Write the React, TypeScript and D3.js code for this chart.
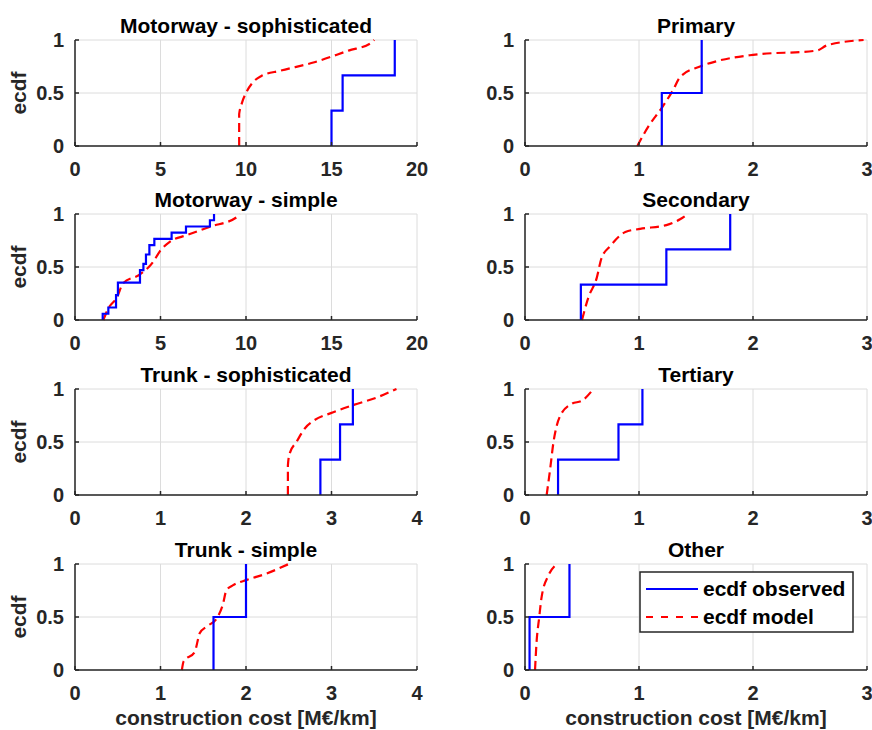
import React from 'react';
import * as d3 from 'd3';

// panel titles, in reading order (left column then right column, row by row)
const titles = [
  'Motorway - sophisticated', 'Primary',
  'Motorway - simple', 'Secondary',
  'Trunk - sophisticated', 'Tertiary',
  'Trunk - simple', 'Other',
];

// x axis upper limits and tick values per panel
const xMax = [20, 3, 20, 3, 4, 3, 4, 3];
const xTicks20 = [0, 5, 10, 15, 20];
const xTicks4 = [0, 1, 2, 3, 4];
const xTicks3 = [0, 1, 2, 3];
const yTicks = [0, 0.5, 1];
const yTickLabels = ['0', '0.5', '1'];

// observed ecdf: [cost, cumulative probability after the jump]
const obsMotorwaySoph: [number, number][] = [[15.0, 1 / 3], [15.65, 2 / 3], [18.7, 1]];
const obsPrimary: [number, number][] = [[1.2, 0.5], [1.55, 1]];
const obsMotorwaySimple: [number, number][] = [
  [1.62, 0.059], [1.95, 0.118], [2.4, 0.235], [2.51, 0.353], [3.8, 0.471],
  [4.0, 0.529], [4.15, 0.618], [4.35, 0.706], [4.64, 0.765], [5.65, 0.824],
  [6.49, 0.882], [7.89, 0.941], [8.13, 1],
];
const obsSecondary: [number, number][] = [[0.49, 1 / 3], [1.24, 2 / 3], [1.8, 1]];
const obsTrunkSoph: [number, number][] = [[2.87, 1 / 3], [3.1, 2 / 3], [3.25, 1]];
const obsTertiary: [number, number][] = [[0.29, 1 / 3], [0.82, 2 / 3], [1.03, 1]];
const obsTrunkSimple: [number, number][] = [[1.62, 0.5], [2.0, 1]];
const obsOther: [number, number][] = [[0.04, 0.5], [0.39, 1]];

// model ecdf
const modMotorwaySoph: [number, number][] = [
  [9.6, 0], [9.6, 0.3], [9.75, 0.4], [10.0, 0.5], [10.4, 0.6], [10.9, 0.66],
  [12.0, 0.71], [14.0, 0.79], [16.0, 0.9], [17.3, 0.97], [17.5, 1],
];
const modPrimary: [number, number][] = [
  [0.985, 0], [1.08, 0.18], [1.2, 0.36], [1.3, 0.53], [1.36, 0.65], [1.535, 0.75],
  [1.68, 0.8], [2.0, 0.86], [2.56, 0.9], [2.65, 0.95], [2.97, 1],
];
const modMotorwaySimple: [number, number][] = [
  [1.66, 0], [1.95, 0.11], [2.44, 0.21], [2.83, 0.35], [3.8, 0.43], [4.58, 0.55],
  [4.97, 0.65], [5.56, 0.74], [6.53, 0.8], [7.9, 0.88], [9.46, 0.97], [9.65, 1],
];
const modSecondary: [number, number][] = [
  [0.5, 0], [0.555, 0.21], [0.63, 0.4], [0.67, 0.58], [0.75, 0.7], [0.88, 0.83],
  [1.01, 0.86], [1.24, 0.895], [1.36, 0.95], [1.43, 1],
];
const modTrunkSoph: [number, number][] = [
  [2.49, 0], [2.49, 0.28], [2.51, 0.39], [2.59, 0.5], [2.69, 0.63], [2.79, 0.7],
  [3.02, 0.78], [3.26, 0.85], [3.53, 0.92], [3.76, 1],
];
const modTertiary: [number, number][] = [
  [0.19, 0], [0.22, 0.24], [0.25, 0.5], [0.28, 0.66], [0.31, 0.75], [0.41, 0.86],
  [0.5, 0.89], [0.6, 1],
];
const modTrunkSimple: [number, number][] = [
  [1.25, 0], [1.27, 0.08], [1.4, 0.17], [1.46, 0.35], [1.54, 0.41], [1.66, 0.49],
  [1.73, 0.62], [1.77, 0.75], [1.85, 0.8], [2.01, 0.85], [2.24, 0.91], [2.5, 1],
];
const modOther: [number, number][] = [
  [0.088, 0], [0.1, 0.24], [0.125, 0.5], [0.146, 0.69], [0.205, 0.89], [0.28, 1],
];

const observed = [obsMotorwaySoph, obsPrimary, obsMotorwaySimple, obsSecondary,
  obsTrunkSoph, obsTertiary, obsTrunkSimple, obsOther];
const model = [modMotorwaySoph, modPrimary, modMotorwaySimple, modSecondary,
  modTrunkSoph, modTertiary, modTrunkSimple, modOther];

const W = 872;
const H = 730;
const colLeft = [75, 525];
const plotW = 342;
const rowTop = [40, 214, 389, 564];
const plotH = 106;
const font = '"Liberation Sans", Arial, Helvetica, sans-serif';
const fs = 20;
const fsTitle = 21;
const axisColor = '#262626';
const gridColor = '#dcdcdc';

const ticksFor = (m: number) => (m === 20 ? xTicks20 : m === 4 ? xTicks4 : xTicks3);

const Panel = ({ i }: { i: number }) => {
  const col = i % 2;
  const row = Math.floor(i / 2);
  const x0 = colLeft[col];
  const y0 = rowTop[row];
  const x = d3.scaleLinear().domain([0, xMax[i]]).range([x0, x0 + plotW]);
  const y = d3.scaleLinear().domain([0, 1]).range([y0 + plotH, y0]);
  const ticks = ticksFor(xMax[i]);

  const obs = observed[i];
  const stepLine = d3.line<[number, number]>()
    .x(d => x(d[0]))
    .y(d => y(d[1]))
    .curve(d3.curveStepAfter);
  const modLine = d3.line<[number, number]>()
    .x(d => x(d[0]))
    .y(d => y(d[1]))
    .curve(d3.curveMonotoneX);

  const obsPts: [number, number][] = [[obs[0][0], 0], ...obs];

  return (
    <g>
      {/* grid */}
      {ticks.map(t => (
        <line key={'gx' + t} x1={x(t)} x2={x(t)} y1={y(0)} y2={y(1)} stroke={gridColor} strokeWidth={1} />
      ))}
      {yTicks.map(t => (
        <line key={'gy' + t} x1={x(0)} x2={x(xMax[i])} y1={y(t)} y2={y(t)} stroke={gridColor} strokeWidth={1} />
      ))}

      {/* data */}
      <path d={modLine(model[i]) || ''} fill="none" stroke="#ff0000" strokeWidth={2.2} strokeDasharray="9,5" />
      <path d={stepLine(obsPts) || ''} fill="none" stroke="#0000ff" strokeWidth={2.2} />

      {/* axes */}
      <line x1={x(0)} x2={x(xMax[i])} y1={y(0)} y2={y(0)} stroke={axisColor} strokeWidth={1.5} />
      <line x1={x(0)} x2={x(0)} y1={y(0)} y2={y(1)} stroke={axisColor} strokeWidth={1.5} />
      {ticks.map(t => (
        <g key={'tx' + t}>
          <line x1={x(t)} x2={x(t)} y1={y(0)} y2={y(0) - 4} stroke={axisColor} strokeWidth={1.5} />
          <text x={x(t)} y={y(0) + 30} textAnchor="middle" fontSize={fs} fontWeight="bold" fill={axisColor}>{t}</text>
        </g>
      ))}
      {yTicks.map((t, k) => (
        <g key={'ty' + t}>
          <line x1={x(0)} x2={x(0) + 4} y1={y(t)} y2={y(t)} stroke={axisColor} strokeWidth={1.5} />
          <text x={x(0) - 11} y={y(t) + 7} textAnchor="end" fontSize={fs} fontWeight="bold" fill={axisColor}>{yTickLabels[k]}</text>
        </g>
      ))}

      {/* title */}
      <text x={x0 + plotW / 2} y={y0 - 7} textAnchor="middle" fontSize={fsTitle} fontWeight="bold" fill="#000">{titles[i]}</text>

      {col === 0 && (
        <text transform={`translate(26,${y0 + plotH / 2}) rotate(-90)`} textAnchor="middle" fontSize={fsTitle} fontWeight="bold" fill="#262626">ecdf</text>
      )}
      {row === 3 && (
        <text x={x0 + plotW / 2} y={725} textAnchor="middle" fontSize={fsTitle} fontWeight="bold" fill="#262626">construction cost [M€/km]</text>
      )}
    </g>
  );
};

const Legend = () => {
  const lx = 640;
  const ly = 572;
  return (
    <g>
      <rect x={lx} y={ly} width={213} height={60} fill="#fff" stroke="#262626" strokeWidth={1.5} />
      <line x1={lx + 6} x2={lx + 58} y1={ly + 17} y2={ly + 17} stroke="#0000ff" strokeWidth={2.2} />
      <text x={lx + 63} y={ly + 24} fontSize={fsTitle} fontWeight="bold" fill="#000">ecdf observed</text>
      <line x1={lx + 6} x2={lx + 58} y1={ly + 45} y2={ly + 45} stroke="#ff0000" strokeWidth={2.2} strokeDasharray="7,8" />
      <text x={lx + 63} y={ly + 52} fontSize={fsTitle} fontWeight="bold" fill="#000">ecdf model</text>
    </g>
  );
};

export default function App() {
  return (
    <svg width={W} height={H} viewBox={`0 0 ${W} ${H}`}
      style={{ position: 'absolute', left: 0, top: 0, background: '#fff', fontFamily: font }}>
      {titles.map((_, i) => <Panel key={i} i={i} />)}
      <Legend />
    </svg>
  );
}
